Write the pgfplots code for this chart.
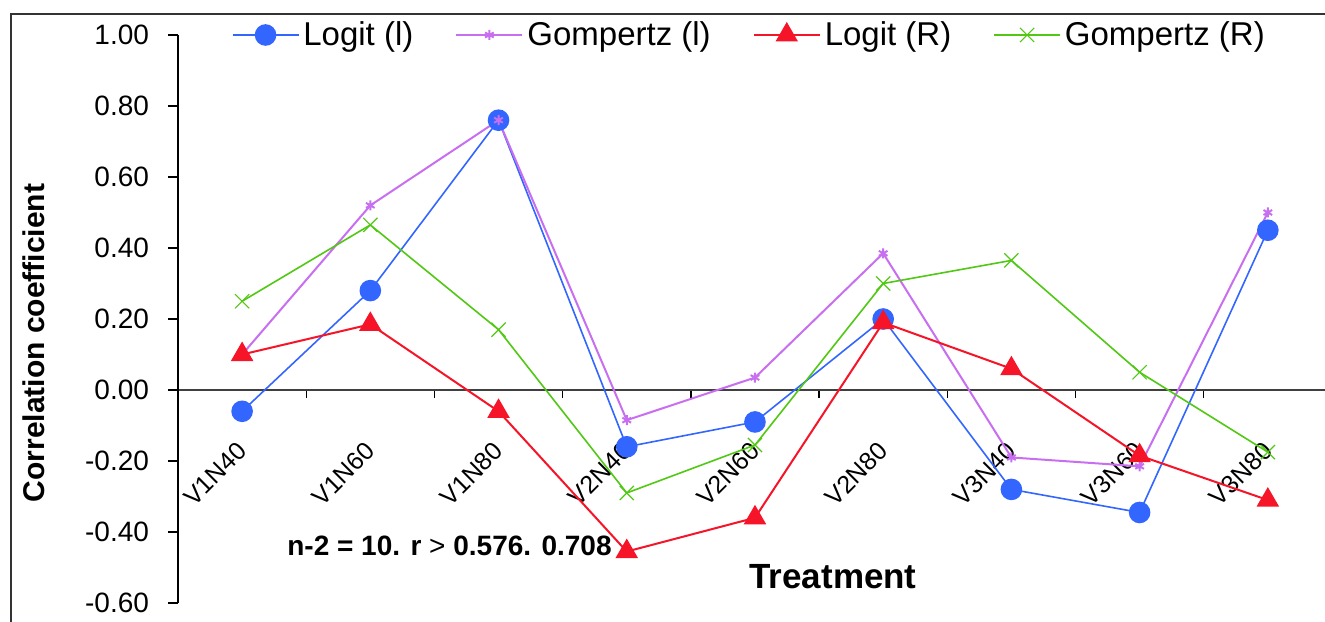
\documentclass[border=0pt]{standalone}
\usepackage{fontspec}
\setmainfont{Liberation Sans}
\usepackage{pgfplots}
\pgfplotsset{compat=1.18}
\definecolor{cBlue}{RGB}{51,102,255}
\definecolor{cViolet}{RGB}{200,110,240}
\definecolor{cRed}{RGB}{245,20,40}
\definecolor{cGreen}{RGB}{80,200,20}
\begin{document}
\begin{tikzpicture}
\begin{axis}[
  at={(0,0)}, anchor=south west,
  scale only axis, width=573.75pt, height=284pt,
  xmin=-0.5, xmax=8.45, ymin=-0.6, ymax=1.0,
  axis x line*=middle, axis y line*=left,
  x axis line style={black!75, line width=0.7pt},
  y axis line style={black, line width=0.9pt},
  xtick={0,...,8},
  xticklabels={V1N40,V1N60,V1N80,V2N40,V2N60,V2N80,V3N40,V3N60,V3N80},
  major x tick style={draw=none},
  minor xtick={0.5,1.5,2.5,3.5,4.5,5.5,6.5,7.5},
  minor tick length=4pt,
  tick align=outside,
  minor x tick style={black, line width=0.7pt},
  y tick style={black, line width=0.9pt},
  major tick length=5pt,
  ytick={-0.6,-0.4,-0.2,0,0.2,0.4,0.6,0.8,1.0},
  /pgf/number format/assume math mode=true,
  yticklabel style={/pgf/number format/fixed, /pgf/number format/fixed zerofill, /pgf/number format/precision=2, font=\fontsize{14pt}{16pt}\selectfont, xshift=-6pt},
  xticklabel style={xshift=2.5pt, yshift=-21pt, rotate=45, anchor=east, font=\fontsize{12.5pt}{14pt}\selectfont},
  legend columns=4,
  legend style={draw=none, fill=none, at={(0.4987,1)}, anchor=center, font=\fontsize{16.5pt}{18pt}\selectfont, /tikz/every even column/.append style={column sep=19pt}},
  legend image code/.code={\draw[mark repeat=2,mark phase=2] plot coordinates {(0cm,0cm) (0.58cm,0cm) (1.16cm,0cm)};},
  clip=false,
]
\addplot[color=cBlue, line width=0.8pt, mark=*, mark size=5pt, mark options={solid}] coordinates {
(0,-0.06) (1,0.28) (2,0.76) (3,-0.16) (4,-0.09) (5,0.20) (6,-0.28) (7,-0.345) (8,0.45)};
\addlegendentry{Logit (l)}
\addplot[color=cViolet, line width=1pt, mark=asterisk, mark size=2.5pt, mark options={solid, line width=1pt}] coordinates {
(0,0.10) (1,0.52) (2,0.76) (3,-0.085) (4,0.035) (5,0.385) (6,-0.19) (7,-0.215) (8,0.50)};
\addlegendentry{Gompertz (l)}
\addplot[color=cRed, line width=1pt, mark=triangle*, mark size=5.5pt, mark options={solid}] coordinates {
(0,0.10) (1,0.185) (2,-0.06) (3,-0.455) (4,-0.36) (5,0.19) (6,0.06) (7,-0.185) (8,-0.31)};
\addlegendentry{Logit (R)}
\addplot[color=cGreen, line width=0.8pt, mark=x, mark size=5pt, mark options={solid, line width=0.6pt}] coordinates {
(0,0.25) (1,0.465) (2,0.17) (3,-0.29) (4,-0.155) (5,0.30) (6,0.365) (7,0.05) (8,-0.175)};
\addlegendentry{Gompertz (R)}
\end{axis}
\node[rotate=90, font=\bfseries\fontsize{15pt}{18pt}\selectfont] at (-72pt,130pt) {Correlation coefficient};
\node[font=\bfseries\fontsize{17.5pt}{20pt}\selectfont] at (327.5pt,13pt) {Treatment};
\node[font=\bfseries\fontsize{14pt}{17pt}\selectfont] at (135.75pt,28.5pt) {n-2 = 10. r {\mdseries >} 0.576. 0.708};
\draw[line width=1pt, black!80] (-83.5pt,-30pt) -- (-83.5pt,294.5pt) -- (620pt,294.5pt);
\pgfresetboundingbox
\path (-89pt,-9pt) rectangle (573.5pt,301.5pt);
\end{tikzpicture}
\end{document}
